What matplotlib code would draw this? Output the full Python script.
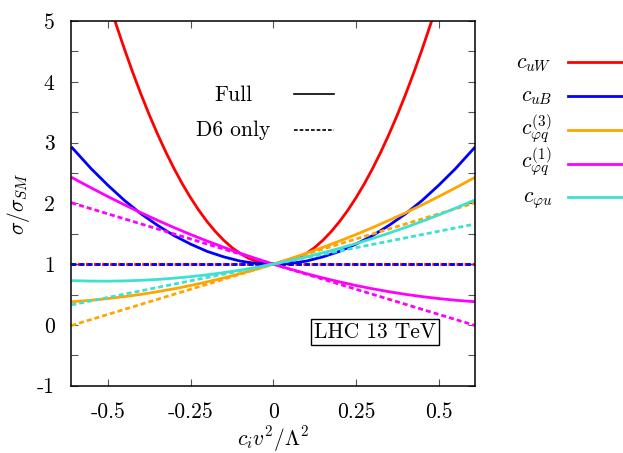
import numpy as np
import matplotlib
matplotlib.use("Agg")
import matplotlib.pyplot as plt
from matplotlib.lines import Line2D

plt.rcParams["font.family"] = "serif"
plt.rcParams["font.serif"] = ["cmr10", "DejaVu Serif"]
plt.rcParams["mathtext.fontset"] = "cm"
plt.rcParams["axes.unicode_minus"] = False
plt.rcParams["axes.formatter.use_mathtext"] = True

# c_i v^2 / Lambda^2 sample points
x = [-0.61, -0.55, -0.5, -0.45, -0.4, -0.35, -0.3, -0.25, -0.2, -0.15, -0.1, -0.05, 0.0,
     0.05, 0.1, 0.15, 0.2, 0.25, 0.3, 0.35, 0.4, 0.45, 0.5, 0.55, 0.61]
# finer sampling for the steep c_uW curve
x_uW = [-0.5, -0.475, -0.45, -0.425, -0.4, -0.375, -0.35, -0.325, -0.3, -0.275, -0.25,
        -0.225, -0.2, -0.175, -0.15, -0.125, -0.1, -0.075, -0.05, -0.025, 0.0,
        0.025, 0.05, 0.075, 0.1, 0.125, 0.15, 0.175, 0.2, 0.225, 0.25,
        0.275, 0.3, 0.325, 0.35, 0.375, 0.4, 0.425, 0.45, 0.475, 0.5]

# sigma / sigma_SM, full result
full_cuW = [5.375, 4.948, 4.544, 4.161, 3.800, 3.461, 3.144, 2.848, 2.575, 2.323, 2.094,
            1.886, 1.700, 1.536, 1.394, 1.273, 1.175, 1.098, 1.044, 1.011, 1.000,
            1.011, 1.044, 1.098, 1.175, 1.273, 1.394, 1.536, 1.700, 1.886, 2.094,
            2.323, 2.575, 2.848, 3.144, 3.461, 3.800, 4.161, 4.544, 4.948, 5.375]
full_cuB = [2.93, 2.57, 2.30, 2.05, 1.83, 1.64, 1.47, 1.33, 1.21, 1.12, 1.05, 1.01, 1.00,
            1.01, 1.05, 1.12, 1.21, 1.33, 1.47, 1.64, 1.83, 2.05, 2.30, 2.57, 2.93]
full_cpq3 = [0.381, 0.406, 0.433, 0.465, 0.502, 0.546, 0.594, 0.648, 0.708, 0.773, 0.843, 0.919, 1.00,
             1.087, 1.179, 1.277, 1.380, 1.488, 1.602, 1.722, 1.846, 1.977, 2.113, 2.254, 2.430]
full_cpq1 = [2.430, 2.254, 2.113, 1.977, 1.846, 1.722, 1.602, 1.488, 1.380, 1.277, 1.179, 1.087, 1.00,
             0.919, 0.843, 0.773, 0.708, 0.648, 0.594, 0.546, 0.502, 0.465, 0.433, 0.406, 0.381]
full_cpu = [0.729, 0.721, 0.720, 0.724, 0.734, 0.748, 0.768, 0.794, 0.824, 0.860, 0.902, 0.948, 1.00,
            1.057, 1.120, 1.187, 1.260, 1.339, 1.422, 1.511, 1.606, 1.705, 1.810, 1.920, 2.059]

# dimension-six (linear) term only
x_d6 = [-0.61, 0.0, 0.61]
d6_cuW = [1.0, 1.0, 1.0]
d6_cuB = [1.0, 1.0, 1.0]
d6_cpq3 = [-0.01, 1.0, 2.01]
d6_cpq1 = [2.01, 1.0, -0.01]
d6_cpu = [0.33, 1.0, 1.66]

labels = [r"$c_{uW}$", r"$c_{uB}$", r"$c_{\varphi q}^{(3)}$", r"$c_{\varphi q}^{(1)}$", r"$c_{\varphi u}$"]
colors = ["#ff0000", "#0000ff", "#ffa500", "#ff00ff", "#40e0d0"]
full_x = [x_uW, x, x, x, x]
full_curves = [full_cuW, full_cuB, full_cpq3, full_cpq1, full_cpu]
d6_curves = [d6_cuW, d6_cuB, d6_cpq3, d6_cpq1, d6_cpu]

x_ticks = [-0.5, -0.25, 0, 0.25, 0.5]
x_tick_labels = ["-0.5", "-0.25", "0", "0.25", "0.5"]
y_ticks = [-1, 0, 1, 2, 3, 4, 5]
y_tick_labels = ["-1", "0", "1", "2", "3", "4", "5"]

fig = plt.figure(figsize=(6.23, 4.53), dpi=100)
ax = fig.add_axes([0.1145, 0.1486, 0.6484, 0.805])

for i, (xf, yf, yd, c) in enumerate(zip(full_x, full_curves, d6_curves, colors)):
    ax.plot(xf, yf, color=c, lw=2.0, solid_capstyle="butt")
    # red dashes peek out just past the blue ones
    offset = 0.6 if i == 0 else 0
    ax.plot(x_d6, yd, color=c, lw=2.0, linestyle=(offset, (1.8, 1.1)))

ax.set_xlim(-0.61, 0.61)
ax.set_ylim(-1, 5)
ax.set_xticks(x_ticks, labels=x_tick_labels)
ax.set_yticks(y_ticks, labels=y_tick_labels)
ax.set_yticks(np.arange(-0.5, 5, 1.0), minor=True)
ax.tick_params(which="both", direction="in", top=True, right=True, length=5,
               width=0.8, color="#555555", labelsize=15.5)
ax.tick_params(axis="x", pad=12)
ax.tick_params(axis="y", pad=12)
for s in ax.spines.values():
    s.set_linewidth(1.1)

ax.set_xlabel(r"$c_i v^2/\Lambda^2$", fontsize=15.5)
ax.set_ylabel(r"$\sigma/\sigma_{SM}$", fontsize=15.5)
ax.xaxis.set_label_coords(0.5, -0.105)
ax.yaxis.set_label_coords(-0.097, 0.5)

# line style key inside the frame
ax.text(0.40, 0.797, "Full", transform=ax.transAxes, ha="center", va="center", fontsize=15.5)
ax.text(0.40, 0.701, "D6 only", transform=ax.transAxes, ha="center", va="center", fontsize=15.5)
ax.add_line(Line2D([0.551, 0.650], [0.800, 0.800], transform=ax.transAxes, color="k", lw=1.2))
ax.add_line(Line2D([0.551, 0.650], [0.701, 0.701], transform=ax.transAxes, color="k", lw=1.2,
                   linestyle=(0, (2.2, 1.2))))

ax.text(0.752, 0.147, "LHC 13 TeV", transform=ax.transAxes, ha="center", va="center", fontsize=15.5,
        bbox=dict(boxstyle="square,pad=0.15", fc="white", ec="black", lw=1.0))

# coefficient key on the right
key_y = [62.3, 96.3, 130.0, 163.7, 197.3]
for lab, c, yp in zip(labels, colors, key_y):
    yf = 1 - yp / 453
    fig.add_artist(Line2D([568 / 623, 1.0], [yf, yf], color=c, lw=2.0))
    fig.text(552 / 623, 1 - (yp + 5) / 453, lab, ha="right", va="baseline", fontsize=15.5)

fig.savefig("out.png", dpi=100)
